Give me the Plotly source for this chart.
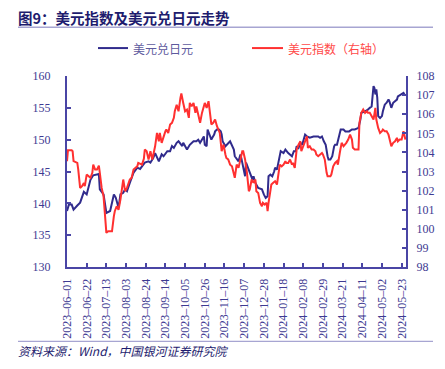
import plotly.graph_objects as go

# ---------------- data ----------------
usdjpy_dates = [
    "2023-06-01","2023-06-03","2023-06-06","2023-06-08","2023-06-12","2023-06-15","2023-06-19","2023-06-22",
    "2023-06-26","2023-06-29","2023-07-05","2023-07-06","2023-07-10","2023-07-13","2023-07-17","2023-07-21",
    "2023-07-23","2023-07-26","2023-07-28","2023-07-31","2023-08-02","2023-08-04","2023-08-07","2023-08-11",
    "2023-08-15","2023-08-18","2023-08-20","2023-08-23","2023-08-27","2023-08-29","2023-09-01","2023-09-03",
    "2023-09-07","2023-09-10","2023-09-12","2023-09-16","2023-09-19","2023-09-21","2023-09-23","2023-09-26",
    "2023-09-28","2023-10-02","2023-10-03","2023-10-07","2023-10-10","2023-10-14","2023-10-17","2023-10-19",
    "2023-10-21","2023-10-25","2023-10-26","2023-10-28","2023-10-29","2023-11-01","2023-11-02","2023-11-03",
    "2023-11-05","2023-11-06","2023-11-08","2023-11-10","2023-11-12","2023-11-13","2023-11-14","2023-11-17",
    "2023-11-20","2023-11-22","2023-11-26","2023-11-27","2023-12-01","2023-12-03","2023-12-04","2023-12-06",
    "2023-12-08","2023-12-09","2023-12-11","2023-12-12","2023-12-14","2023-12-16","2023-12-17","2023-12-19",
    "2023-12-22","2023-12-26","2023-12-28","2023-12-30","2024-01-01","2024-01-02","2024-01-04","2024-01-06",
    "2024-01-08","2024-01-09","2024-01-11","2024-01-13","2024-01-15","2024-01-18","2024-01-20","2024-01-23",
    "2024-01-27","2024-01-29","2024-01-31","2024-02-01","2024-02-03","2024-02-05","2024-02-07","2024-02-08",
    "2024-02-10","2024-02-12","2024-02-15","2024-02-19","2024-02-22","2024-02-24","2024-02-26","2024-02-28",
    "2024-03-01","2024-03-03","2024-03-05","2024-03-06","2024-03-08","2024-03-10","2024-03-12","2024-03-13",
    "2024-03-15","2024-03-17","2024-03-19","2024-03-22","2024-03-24","2024-03-28","2024-03-31","2024-04-03",
    "2024-04-07","2024-04-09","2024-04-10","2024-04-14","2024-04-17","2024-04-19","2024-04-21","2024-04-23",
    "2024-04-24","2024-04-25","2024-04-26","2024-04-27","2024-04-28","2024-04-30","2024-05-02","2024-05-03",
    "2024-05-05","2024-05-07","2024-05-09","2024-05-10","2024-05-12","2024-05-14","2024-05-16","2024-05-18",
    "2024-05-19","2024-05-23","2024-05-25","2024-05-26","2024-05-27",
]
usdjpy_values = [
    138.8,139.8,139.8,139.0,139.65,140.1,141.8,141.4,
    143.7,144.4,144.6,142.2,141.4,138.5,138.8,141.4,
    140.9,139.3,141.4,141.65,142.2,141.9,143.2,144.8,
    145.6,145.4,145.8,146.4,146.6,146.4,147.1,147.9,
    146.6,147.7,147.4,148.2,148.2,149.0,148.7,149.5,
    149.75,149.0,149.5,148.45,149.2,149.75,149.75,150.0,
    149.5,150.5,149.2,148.96,151.6,150.5,150.0,150.3,
    150.8,151.3,151.6,151.6,151.3,150.8,149.75,148.96,
    149.5,149.75,148.45,147.4,146.6,147.66,147.1,145.6,
    144.25,146.4,145.6,145.0,144.5,143.7,144.25,143.2,
    142.4,142.2,141.4,140.86,141.1,144.25,144.5,144.25,
    145.0,145.6,145.3,146.9,148.2,147.9,148.45,147.9,
    147.4,148.2,148.2,148.96,148.7,149.5,149.2,149.75,
    150.8,150.5,150.3,150.5,150.5,150.5,150.3,150.5,
    149.75,149.2,147.4,146.9,146.9,147.4,148.96,149.2,
    149.2,150.3,151.6,151.6,151.3,151.3,151.6,151.6,
    151.85,153.15,154.2,154.46,154.7,155.0,155.2,158.4,
    158.1,157.1,157.9,156.6,153.7,153.4,153.7,154.46,
    155.5,155.8,156.3,156.0,155.0,155.8,156.0,156.3,
    156.8,157.1,157.35,157.1,157.0,
]

dxy_dates = [
    "2023-06-01","2023-06-02","2023-06-06","2023-06-07","2023-06-08","2023-06-12","2023-06-13","2023-06-15",
    "2023-06-17","2023-06-19","2023-06-20","2023-06-22","2023-06-26","2023-06-28","2023-06-29","2023-07-01",
    "2023-07-03","2023-07-05","2023-07-06","2023-07-08","2023-07-10","2023-07-11","2023-07-13","2023-07-15",
    "2023-07-19","2023-07-21","2023-07-22","2023-07-24","2023-07-26","2023-07-28","2023-07-31","2023-08-02",
    "2023-08-04","2023-08-07","2023-08-09","2023-08-11","2023-08-15","2023-08-16","2023-08-20","2023-08-22",
    "2023-08-23","2023-08-25","2023-08-27","2023-08-29","2023-08-31","2023-09-03","2023-09-05","2023-09-07",
    "2023-09-08","2023-09-10","2023-09-12","2023-09-14","2023-09-15","2023-09-17","2023-09-19","2023-09-21",
    "2023-09-23","2023-09-24","2023-09-26","2023-09-28","2023-09-30","2023-10-01","2023-10-03","2023-10-05",
    "2023-10-07","2023-10-09","2023-10-10","2023-10-12","2023-10-14","2023-10-16","2023-10-17","2023-10-19",
    "2023-10-21","2023-10-23","2023-10-25","2023-10-26","2023-10-28","2023-10-30","2023-11-01","2023-11-02",
    "2023-11-04","2023-11-06","2023-11-08","2023-11-10","2023-11-11","2023-11-13","2023-11-15","2023-11-17",
    "2023-11-18","2023-11-20","2023-11-22","2023-11-24","2023-11-25","2023-11-27","2023-11-29","2023-12-01",
    "2023-12-03","2023-12-05","2023-12-06","2023-12-08","2023-12-10","2023-12-12","2023-12-13","2023-12-15",
    "2023-12-17","2023-12-19","2023-12-20","2023-12-22","2023-12-24","2023-12-26","2023-12-27","2023-12-29",
    "2023-12-31","2024-01-01","2024-01-02","2024-01-04","2024-01-05","2024-01-07","2024-01-09","2024-01-11",
    "2024-01-14","2024-01-16","2024-01-18","2024-01-20","2024-01-21","2024-01-23","2024-01-25","2024-01-27",
    "2024-01-28","2024-01-30","2024-02-01","2024-02-03","2024-02-05","2024-02-06","2024-02-08","2024-02-10",
    "2024-02-12","2024-02-13","2024-02-15","2024-02-17","2024-02-19","2024-02-21","2024-02-22","2024-02-24",
    "2024-02-28","2024-02-29","2024-03-02","2024-03-04","2024-03-05","2024-03-08","2024-03-09","2024-03-11",
    "2024-03-13","2024-03-15","2024-03-16","2024-03-18","2024-03-20","2024-03-22","2024-03-24","2024-03-25",
    "2024-03-27","2024-03-29","2024-03-31","2024-04-01","2024-04-03","2024-04-07","2024-04-08","2024-04-10",
    "2024-04-12","2024-04-14","2024-04-16","2024-04-17","2024-04-19","2024-04-21","2024-04-23","2024-04-25",
    "2024-04-26","2024-04-28","2024-04-30","2024-05-02","2024-05-03","2024-05-05","2024-05-07","2024-05-09",
    "2024-05-10","2024-05-12","2024-05-14","2024-05-16","2024-05-18","2024-05-19","2024-05-21","2024-05-23",
    "2024-05-25","2024-05-26","2024-05-27",
]
dxy_values = [
    103.54,104.11,104.11,104.06,103.54,103.45,103.1,102.14,
    102.23,102.4,102.23,102.84,102.67,102.93,103.36,103.1,
    103.1,103.31,102.93,102.14,101.7,100.84,99.79,99.87,
    99.87,100.66,100.92,101.18,101.0,101.53,102.58,101.97,
    102.14,102.58,102.67,103.1,103.27,103.45,103.36,103.66,
    104.15,104.06,103.63,104.06,103.63,104.32,105.02,104.58,
    105.02,104.5,104.84,105.11,105.2,105.02,105.46,105.55,
    105.81,106.15,106.5,106.15,106.85,107.08,106.59,106.15,
    106.24,105.81,106.59,106.41,106.59,106.07,106.41,105.89,
    105.55,106.07,106.5,106.59,106.33,106.68,105.89,105.46,
    105.55,105.72,105.37,105.11,105.02,104.06,104.41,103.89,
    103.71,103.63,103.36,103.27,103.1,102.67,103.36,103.19,
    103.63,104.06,104.06,103.63,102.93,101.97,102.06,102.58,
    102.41,102.58,101.97,101.88,101.36,101.18,101.36,101.27,
    101.36,100.92,101.36,102.23,102.32,102.41,102.49,102.32,
    103.36,103.27,103.36,103.54,103.45,103.45,103.63,103.36,
    103.45,103.19,104.15,104.41,104.58,104.06,104.32,104.58,
    104.84,104.24,104.32,104.15,104.15,104.06,103.89,103.8,
    103.97,103.89,103.63,102.93,102.75,102.75,102.84,103.27,
    103.45,103.54,103.36,103.97,104.5,104.32,104.41,104.5,
    104.67,104.93,104.67,104.24,104.15,104.15,105.55,106.07,
    106.24,106.07,106.15,106.07,106.07,105.89,105.72,106.33,
    105.72,105.28,105.02,105.11,105.2,105.11,105.11,104.93,
    104.67,104.32,104.5,104.58,104.76,104.58,104.67,104.67,
    105.11,104.76,104.67,
]

tick_dates = [
    "2023-06-01","2023-06-22","2023-07-13","2023-08-03","2023-08-24","2023-09-14","2023-10-05",
    "2023-10-26","2023-11-16","2023-12-07","2023-12-28","2024-01-18","2024-02-08","2024-02-29",
    "2024-03-21","2024-04-11","2024-05-02","2024-05-23",
]
tick_labels = [d.replace("-", "–") for d in tick_dates]
left_ticks = [130, 135, 140, 145, 150, 155, 160]
right_ticks = [98, 99, 100, 101, 102, 103, 104, 105, 106, 107, 108]

title_text = "图9：美元指数及美元兑日元走势"
name_jpy = "美元兑日元"
name_dxy = "美元指数（右轴）"
source_text = "资料来源：Wind，中国银河证券研究院"

# ---------------- style ----------------
BLUE = "#302B8C"
RED = "#FF3030"
AXIS = "#4A45A5"
TICKC = "#3E3A92"
NAVY = "#1E1C6E"
RULE = "#A7A5D2"
SERIF = "Liberation Serif, Times New Roman, serif"
CJK = "Noto Sans CJK SC, sans-serif"

W, H = 445, 369
L, R, T, B = 67, 39, 76, 101.5
pw, ph = W - L - R, H - T - B


def px(x):
    return (x - L) / pw


def py(y):
    return (H - B - y) / ph


fig = go.Figure()
fig.add_trace(go.Scatter(x=usdjpy_dates, y=usdjpy_values, mode="lines", name=name_jpy,
                         line=dict(color=BLUE, width=2), yaxis="y", showlegend=False))
fig.add_trace(go.Scatter(x=dxy_dates, y=dxy_values, mode="lines", name=name_dxy,
                         line=dict(color=RED, width=2), yaxis="y2", showlegend=False))

fig.update_layout(
    width=W, height=H,
    margin=dict(l=L, r=R, t=T, b=B, pad=0),
    paper_bgcolor="white", plot_bgcolor="white",
    showlegend=False,
    xaxis=dict(
        type="date", range=["2023-06-01", "2024-05-27 16:00"],
        tickmode="array", tickvals=tick_dates, ticktext=tick_labels,
        tickangle=-90, ticks="inside", ticklen=4, tickcolor=AXIS, tickwidth=1.5,
        showline=True, linecolor=AXIS, linewidth=2, showgrid=False, zeroline=False,
        tickfont=dict(family=SERIF, size=12, color=TICKC), ticklabelstandoff=5,
    ),
    yaxis=dict(
        range=[130, 160], tickmode="array", tickvals=left_ticks,
        ticks="inside", ticklen=4, tickcolor=AXIS, tickwidth=1.5,
        showline=True, linecolor=AXIS, linewidth=2, showgrid=False, zeroline=False,
        tickfont=dict(family=SERIF, size=12, color=TICKC), ticklabelstandoff=12,
    ),
    yaxis2=dict(
        range=[98, 108], tickmode="array", tickvals=right_ticks,
        overlaying="y", side="right",
        ticks="inside", ticklen=4, tickcolor=AXIS, tickwidth=1.5,
        showline=True, linecolor=AXIS, linewidth=2, showgrid=False, zeroline=False,
        tickfont=dict(family=SERIF, size=12, color=TICKC), ticklabelstandoff=6,
    ),
)

# title, rules, legend, source
fig.add_annotation(text="<b>" + title_text + "</b>", xref="paper", yref="paper",
                   x=px(16), y=py(17), xanchor="left", yanchor="middle", showarrow=False,
                   font=dict(family=CJK, size=14.5, color=NAVY))
fig.add_shape(type="line", xref="paper", yref="paper", x0=px(18), x1=px(433), y0=py(27), y1=py(27),
              line=dict(color=RULE, width=1.5))
fig.add_shape(type="line", xref="paper", yref="paper", x0=px(18), x1=px(433), y0=py(342), y1=py(342),
              line=dict(color=RULE, width=1.2))

fig.add_shape(type="line", xref="paper", yref="paper", x0=px(98), x1=px(128), y0=py(48), y1=py(48),
              line=dict(color=BLUE, width=2))
fig.add_annotation(text=name_jpy, xref="paper", yref="paper", x=px(131), y=py(48),
                   xanchor="left", yanchor="middle", showarrow=False,
                   font=dict(family=CJK, size=12, color="#5E5A9E"))
fig.add_shape(type="line", xref="paper", yref="paper", x0=px(252), x1=px(283), y0=py(48), y1=py(48),
              line=dict(color=RED, width=2))
fig.add_annotation(text=name_dxy, xref="paper", yref="paper", x=px(286), y=py(48),
                   xanchor="left", yanchor="middle", showarrow=False,
                   font=dict(family=CJK, size=12, color="#FF4A4A"))

fig.add_annotation(text="<i>" + source_text + "</i>", xref="paper", yref="paper",
                   x=px(16), y=py(351), xanchor="left", yanchor="middle", showarrow=False,
                   font=dict(family=CJK, size=12, color=NAVY))

fig.write_html("out.html", config={"displayModeBar": False},
               post_script="document.body.style.margin='0';document.body.style.padding='0';")
